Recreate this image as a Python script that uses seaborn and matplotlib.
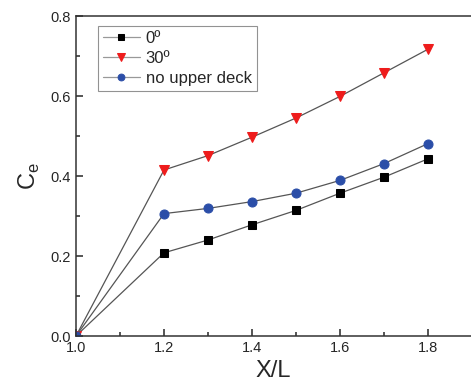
import matplotlib
matplotlib.use("Agg")
import matplotlib.pyplot as plt
from matplotlib.ticker import MultipleLocator
import seaborn as sns
import pandas as pd

# data
x_vals = [1.0, 1.2, 1.3, 1.4, 1.5, 1.6, 1.7, 1.8]
ce_0deg = [0.0, 0.208, 0.240, 0.278, 0.314, 0.357, 0.397, 0.443]
ce_30deg = [0.0, 0.415, 0.451, 0.497, 0.545, 0.599, 0.658, 0.717]
ce_no_deck = [0.0, 0.306, 0.319, 0.336, 0.357, 0.389, 0.431, 0.481]
labels = ["0º", "30º", "no upper deck"]

sns.set_style("ticks")
plt.rcParams['font.family'] = ['Liberation Sans', 'DejaVu Sans']

df = pd.DataFrame({
    "X/L": x_vals * 3,
    "Ce": ce_0deg + ce_30deg + ce_no_deck,
    "case": [labels[0]] * len(x_vals) + [labels[1]] * len(x_vals) + [labels[2]] * len(x_vals),
})

fig = plt.figure(figsize=(4.71, 3.88), dpi=100)
ax = fig.add_axes([76 / 471, 52 / 388, (471 - 76) / 471, 320 / 388])

colors = {"0º": "black", "30º": "#ee1c1c", "no upper deck": "#2b4ea8"}
markers = {"0º": "s", "30º": "v", "no upper deck": "o"}
sizes = {"0º": 6, "30º": 7.5, "no upper deck": 6.5}

for case in labels:
    sub = df[df["case"] == case]
    sns.lineplot(data=sub, x="X/L", y="Ce", ax=ax, color="#555555", lw=0.9,
                 marker=markers[case], markersize=sizes[case],
                 markerfacecolor=colors[case], markeredgecolor=colors[case],
                 label=case)

ax.set_xlim(1.0, 1.0 + 395 / 440)
ax.set_ylim(0, 0.8)
ax.xaxis.set_major_locator(MultipleLocator(0.2))
ax.xaxis.set_minor_locator(MultipleLocator(0.1))
ax.yaxis.set_major_locator(MultipleLocator(0.2))
ax.yaxis.set_minor_locator(MultipleLocator(0.1))
ax.tick_params(which="both", direction="in", labelsize=10.5, width=1.1)
ax.tick_params(which="major", length=5)
ax.tick_params(which="minor", length=3)
ax.spines["right"].set_visible(False)
for s in ["left", "bottom", "top"]:
    ax.spines[s].set_linewidth(1.1)
    ax.spines[s].set_color("#333333")

ax.set_xlabel("X/L", fontsize=17, labelpad=4)
ax.set_ylabel("C$_\\mathregular{e}$", fontsize=17, labelpad=6)

leg = ax.legend(loc="upper left", bbox_to_anchor=(0.0557, 0.97), borderaxespad=0,
                fontsize=12, frameon=True, fancybox=False, edgecolor="#777777",
                handlelength=2.2, borderpad=0.3, labelspacing=0.3,
                handletextpad=0.35, markerscale=0.75)
leg.get_frame().set_linewidth(0.8)
for line in leg.get_lines():
    line.set_color("#999999")

fig.savefig("out.png", dpi=100)
